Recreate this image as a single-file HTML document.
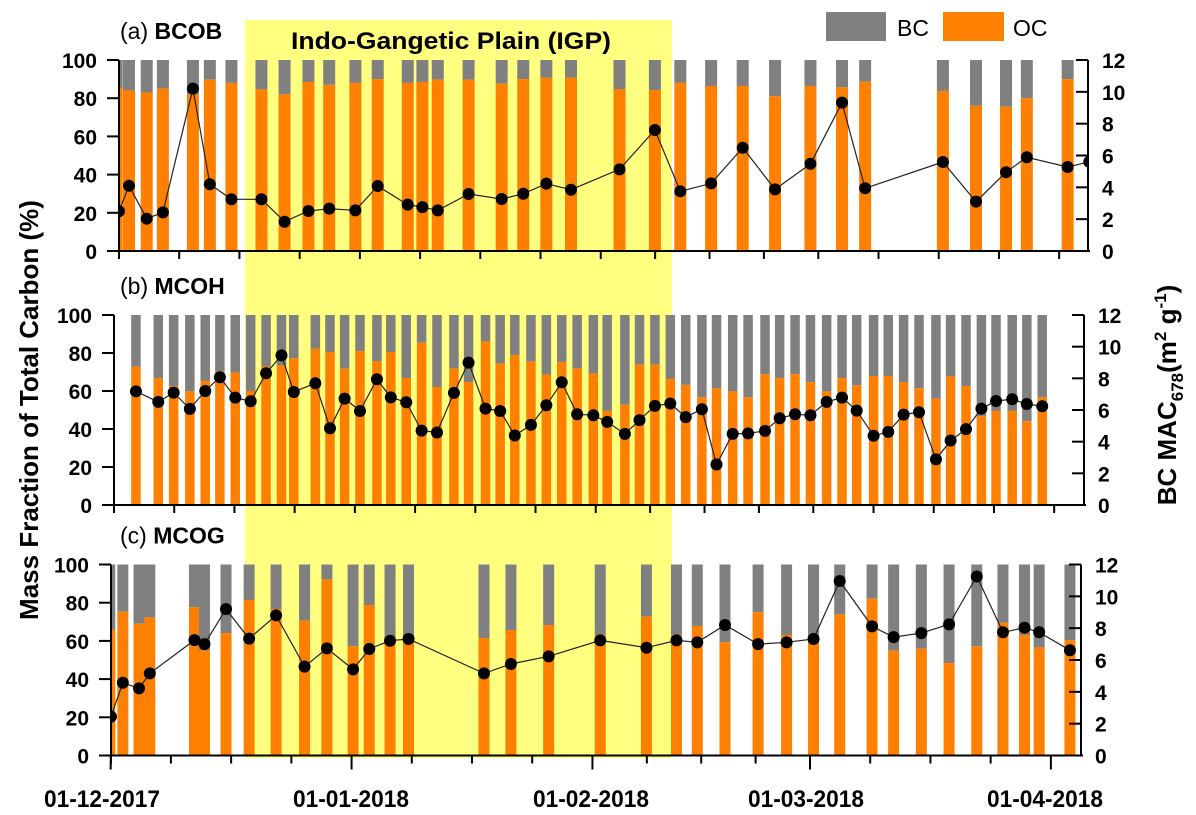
<!DOCTYPE html>
<html><head><meta charset="utf-8"><style>
html,body{margin:0;padding:0;background:#fff;}
svg{display:block;font-family:"Liberation Sans",Arial,sans-serif;}
</style></head><body>
<svg id="chart" width="1196" height="815" viewBox="0 0 1196 815" xmlns="http://www.w3.org/2000/svg">
<rect x="245" y="20" width="427" height="738" fill="#ffff80"/>
<text x="451" y="49" text-anchor="middle" font-size="24" font-weight="bold" textLength="320" lengthAdjust="spacingAndGlyphs">Indo-Gangetic Plain (IGP)</text>
<g>
<rect x="826" y="12" width="60" height="29" fill="#808080"/>
<text x="897" y="36" font-size="23">BC</text>
<rect x="943" y="12" width="61" height="29" fill="#ff8000"/>
<text x="1013" y="36" font-size="23">OC</text>
</g>
<text transform="translate(38,410) rotate(-90)" text-anchor="middle" font-size="26" font-weight="bold">Mass Fraction of Total Carbon (%)</text>
<text transform="translate(1176,395) rotate(-90)" text-anchor="middle" font-size="26" font-weight="bold">BC MAC<tspan font-size="17" dy="7">678</tspan><tspan dy="-7">(m</tspan><tspan font-size="17" dy="-10">2</tspan><tspan dy="10"> g</tspan><tspan font-size="17" dy="-10">-1</tspan><tspan dy="10">)</tspan></text>
<g id="panels"></g>
<g id="dates"></g>
</svg>
<script>
// Panel (a) BCOB
const aDays = [-0.3,1.3,3.6,5.7,9.6,11.8,14.6,18.5,21.5,24.6,27.3,30.7,33.6,37.5,39.4,41.4,45.4,49.7,52.5,55.5,58.7,65.0,69.6,72.9,76.9,81.0,85.2,89.8,93.9,96.9,107.0,111.3,115.2,117.9,123.2];
const aOC = [85.6,84,83,85,82,89.7,88,84.6,82,88.5,87,88,90,88,88.5,89.7,89.7,87.6,90,90.7,90.7,84.8,84.3,88,86.4,86.4,81,86.4,85.7,88.7,83.8,76,75.5,80,90];
const aMacDays = [0,1.3,3.6,5.7,9.6,11.8,14.6,18.5,21.5,24.6,27.3,30.7,33.6,37.5,39.4,41.4,45.4,49.7,52.5,55.5,58.7,65.0,69.6,72.9,76.9,81.0,85.2,89.8,93.9,96.9,107.0,111.3,115.2,117.9,123.2,126];
const aMac = [2.5,4.1,2.03,2.43,10.2,4.19,3.25,3.25,1.84,2.51,2.66,2.55,4.08,2.91,2.76,2.55,3.58,3.27,3.6,4.23,3.85,5.13,7.6,3.75,4.25,6.49,3.87,5.48,9.32,3.94,5.59,3.1,4.95,5.89,5.28,5.6];
// Panel (b) MCOH
const bDays = [2.2,5.1,7.1,9.2,11.2,13.1,15.1,17.1,19.1,21.1,22.7,25.5,27.4,29.3,31.3,33.5,35.3,37.3,39.3,41.3,43.5,45.4,47.6,49.5,51.4,53.5,55.5,57.5,59.5,61.6,63.4,65.7,67.6,69.6,71.6,73.6,75.7,77.6,79.7,81.7,83.9,85.8,87.8,89.8,91.9,93.9,95.8,98.0,99.9,101.9,103.9,106.1,108.0,110.0,112.0,113.9,116.0,117.9,119.9];
const bOC = [72.8,66.8,62.6,59.8,65.3,70.2,69.7,60,72.8,73.5,77.2,82.2,80.5,71.7,81,75.6,80.5,66.8,85.4,62.1,71.7,64.7,86.1,74.5,78.9,75.4,68.6,75.2,71.9,69.1,49.5,52.8,73.8,73.8,66.3,63.2,56.7,61.4,59.8,56.7,68.9,66.8,68.9,64.7,59.8,66.8,63,67.9,67.9,64.7,61.4,56,67.6,62.6,46.7,49.5,49.5,44.1,56.7];
const bMacDays = bDays;
const bMac = [7.18,6.51,7.1,6.07,7.2,8.07,6.78,6.55,8.32,9.45,7.14,7.69,4.85,6.72,5.94,7.94,6.8,6.49,4.7,4.58,7.08,8.99,6.09,5.94,4.39,5.06,6.3,7.75,5.73,5.67,5.25,4.49,5.36,6.26,6.41,5.55,6.05,2.56,4.49,4.52,4.68,5.48,5.73,5.67,6.51,6.78,5.96,4.37,4.62,5.71,5.86,2.88,4.07,4.79,6.09,6.57,6.68,6.38,6.24];
// Panel (c) MCOG
const cDays = [-1.2,0.5,2.6,4.0,9.8,11.1,13.9,16.9,20.4,24.1,27.0,30.4,32.5,35.2,37.6,47.4,50.9,55.8,62.5,68.5,72.4,75.1,78.7,83.0,86.7,90.2,93.6,97.8,100.6,104.2,107.8,111.4,114.8,117.6,119.5,123.5];
const cOC = [65.7,75.3,69.0,72.3,77.6,54.9,64.1,81.4,76.7,70.6,92.2,57.2,78.8,60,61.4,61.5,65.7,68.3,63.1,72.7,63.1,67.8,59.3,75,63.1,62.2,73.9,82.1,54.9,55.9,48.4,57.2,69.5,63.1,56.6,60.3];
const cMacDays = [-1.04,0.5,2.6,4.0,9.8,11.1,13.9,16.9,20.4,24.1,27.0,30.4,32.5,35.2,37.6,47.4,50.9,55.8,62.5,68.5,72.4,75.1,78.7,83.0,86.7,90.2,93.6,97.8,100.6,104.2,107.8,111.4,114.8,117.6,119.5,123.5];
const cMac = [2.44,4.57,4.22,5.16,7.25,7.0,9.2,7.34,8.8,5.58,6.73,5.41,6.69,7.21,7.32,5.16,5.75,6.23,7.23,6.77,7.23,7.11,8.2,7.0,7.11,7.32,10.96,8.11,7.44,7.69,8.24,11.25,7.74,8.03,7.74,6.61];
// Axes
const pctTicks = [0,20,40,60,80,100];
const macTicks = [0,2,4,6,8,10,12];
const dateLabels = ["01-12-2017","01-01-2018","01-02-2018","01-03-2018","01-04-2018"];
const dateDays = [0,31,62,90,121];

const NS = "http://www.w3.org/2000/svg";
const root = document.getElementById('panels');
function mk(tag, attrs, parent){
  const e = document.createElementNS(NS, tag);
  for (const k in attrs) e.setAttribute(k, attrs[k]);
  parent.appendChild(e);
  return e;
}
const panels = [
  {id:'a', label:'(a)', name:'BCOB', left:119, right:1088, top:60, bottom:251, bw:12, days:aDays, oc:aOC, mdays:aMacDays, mac:aMac, tickX0:119},
  {id:'b', label:'(b)', name:'MCOH', left:114, right:1084, top:315, bottom:505, bw:9.5, days:bDays, oc:bOC, mdays:bMacDays, mac:bMac, tickX0:114},
  {id:'c', label:'(c) ', name:'MCOG', left:111, right:1081, top:564.5, bottom:755.5, bw:11, days:cDays, oc:cOC, mdays:cMacDays, mac:cMac, tickX0:110.7}
];
const PXD = 7.7;
function xs(d){ return 119 + d * PXD; }

panels.forEach(p => {
  const g = mk('g', {}, root);
  
  
  const h = p.bottom - p.top;
  const yP = v => p.bottom - v / 100 * h;
  const yM = v => p.bottom - v / 12 * h;
  const clipId = 'clip' + p.id;
  const cp = mk('clipPath', {id: clipId}, g);
  mk('rect', {x: p.left, y: p.top - 10, width: p.right - p.left, height: h + 10}, cp);
  const plot = mk('g', {'clip-path': 'url(#' + clipId + ')'}, g);
  p.days.forEach((d, i) => {
    const cx = xs(d);
    const bc = mk('rect', {x: cx - p.bw/2, y: p.top, width: p.bw, height: yP(p.oc[i]) - p.top, fill: '#808080'}, plot);
    
    
    const oc = mk('rect', {x: cx - p.bw/2, y: yP(p.oc[i]), width: p.bw, height: p.bottom - yP(p.oc[i]), fill: '#ff8000'}, plot);
    
    
  });
  const pts = p.mdays.map((d, i) => xs(d).toFixed(1) + ',' + yM(p.mac[i]).toFixed(1)).join(' ');
  const line = mk('polyline', {points: pts, fill: 'none', stroke: '#222', 'stroke-width': 1.2}, plot);
  
  
  p.mdays.forEach((d, i) => {
    const c = mk('circle', {cx: xs(d), cy: yM(p.mac[i]), r: 6, fill: '#000'}, plot);
    
    
  });
  const ax = mk('g', {stroke: '#000', 'stroke-width': 2, fill: 'none'}, g);
  
  
  mk('line', {x1: p.left, y1: p.top, x2: p.left, y2: p.bottom + 8}, ax);
  mk('line', {x1: p.right, y1: p.top, x2: p.right, y2: p.bottom}, ax);
  mk('line', {x1: p.left - 12, y1: p.bottom, x2: p.right + 2, y2: p.bottom}, ax);
  pctTicks.forEach(v => {
    mk('line', {x1: p.left - 12, y1: yP(v), x2: p.left, y2: yP(v)}, ax);
    const t = mk('text', {x: p.left - 22, y: yP(v) + 8, 'text-anchor': 'end', 'font-size': 21, 'font-weight': 'bold', fill: '#000', stroke: 'none'}, g);
    t.textContent = v;
    
    
  });
  macTicks.forEach(v => {
    mk('line', {x1: p.right - 12, y1: yM(v), x2: p.right, y2: yM(v)}, ax);
    const t = mk('text', {x: p.right + 14, y: yM(v) + 8, 'font-size': 21, 'font-weight': 'bold', fill: '#000', stroke: 'none'}, g);
    t.textContent = v;
    
    
  });
  for (let k = 0; k < dateDays.length; k++) {
    const xm = p.tickX0 + dateDays[k] * 7.77;
    mk('line', {x1: xm, y1: p.bottom, x2: xm, y2: p.bottom + (p.id === 'c' ? 14 : 8)}, ax);
    if (k < dateDays.length - 1) {
      for (let q = 1; q < 4; q++) {
        const xq = p.tickX0 + (dateDays[k] + (dateDays[k+1] - dateDays[k]) * q / 4) * 7.77;
        mk('line', {x1: xq, y1: p.bottom, x2: xq, y2: p.bottom + 8}, ax);
      }
    }
  }
  const lab = mk('text', {x: 120, y: p.top - 21, 'font-size': 23, fill: '#000'}, g);
  
  
  const s1 = mk('tspan', {}, lab); s1.textContent = p.label + ' ';
  const s2 = mk('tspan', {'font-weight': 'bold'}, lab); s2.textContent = p.name;
});
const dg = document.getElementById('dates');
const dateCenters = [102, 351, 591, 806, 1045];
dateLabels.forEach((s, i) => {
  const t = mk('text', {x: dateCenters[i], y: 807, 'text-anchor': 'middle', 'font-size': 24, 'font-weight': 'bold', textLength: 116, lengthAdjust: 'spacingAndGlyphs'}, dg);
  t.textContent = s;
  
  
});
</script>
</body></html>
